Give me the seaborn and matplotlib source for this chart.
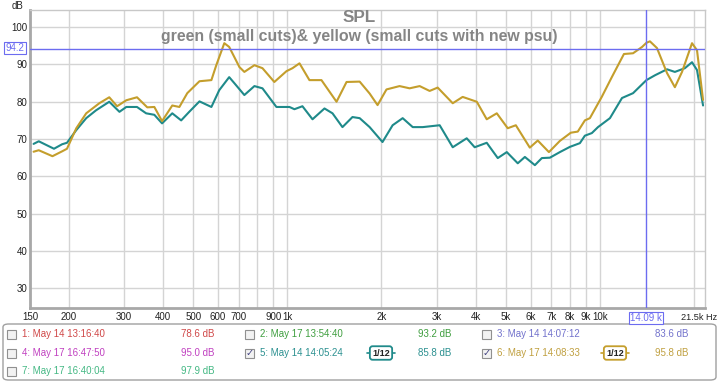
import numpy as np
import pandas as pd
import matplotlib
matplotlib.use("Agg")
import matplotlib.pyplot as plt
from matplotlib.patches import FancyBboxPatch, Rectangle
import seaborn as sns

# measurement 5 (teal) - frequency in Hz, SPL in dB
teal_freq = [154, 160, 179, 190, 197, 211, 227, 244, 269, 290, 305, 330, 353, 375,
             397, 428, 457, 485, 523, 571, 605, 651, 676, 728, 784, 832, 922, 1015,
             1053, 1117, 1203, 1314, 1394, 1500, 1615, 1703, 1833, 2015, 2171, 2338,
             2518, 2711, 3071, 3381, 3748, 3975, 4344, 4712, 5036, 5460, 5754, 6194,
             6521, 6918, 7447, 8017, 8630, 8953, 9425, 9862, 10770, 11770, 12770,
             14090, 15010, 16400, 17380, 18710, 19720, 20460, 21390]
teal_db = [68.7, 69.4, 67.4, 68.6, 69.0, 72.4, 75.6, 77.7, 80.0, 77.3, 78.6, 78.6, 76.9, 76.5,
           74.2, 76.9, 75.0, 77.3, 80.1, 78.6, 83.1, 86.6, 85.0, 81.8, 84.2, 83.6, 78.6, 78.6,
           78.0, 78.8, 75.3, 78.2, 76.9, 73.2, 75.9, 75.6, 73.2, 69.2, 73.7, 75.6,
           73.2, 73.2, 73.7, 67.8, 70.2, 67.8, 69.0, 64.9, 66.5, 63.5, 65.2, 63.0,
           64.9, 65.0, 66.5, 67.9, 68.9, 70.9, 71.6, 73.2, 75.6, 81.0, 82.3,
           85.8, 87.1, 88.7, 88.0, 89.0, 90.6, 88.5, 79.0]

# measurement 6 (gold)
gold_freq = [154, 160, 177, 190, 197, 211, 227, 250, 269, 285, 305, 330, 356, 375,
             397, 428, 451, 478, 523, 571, 592, 628, 651, 702, 728, 784, 832, 908,
             993, 1038, 1093, 1176, 1285, 1436, 1546, 1703, 1833, 1943, 2075, 2285,
             2461, 2650, 2852, 3026, 3381, 3638, 4037, 4344, 4678, 5071, 5383, 5967,
             6327, 6870, 7447, 8073, 8498, 8953, 9290, 10140, 10920, 11940, 12770,
             13650, 14090, 14460, 15230, 16400, 17380, 18320, 19720, 20460, 21390]
gold_db = [66.6, 67.0, 65.4, 66.7, 67.4, 72.9, 76.9, 79.6, 81.2, 78.8, 80.4, 81.2, 78.5, 78.6,
           74.8, 79.0, 78.6, 82.3, 85.5, 85.8, 89.8, 95.7, 94.7, 89.3, 88.0, 89.8, 89.0, 85.3,
           88.2, 89.0, 90.3, 85.8, 85.8, 80.0, 85.3, 85.4, 82.2, 79.1, 83.3, 84.2,
           83.6, 84.2, 82.9, 83.8, 79.6, 81.3, 80.0, 75.3, 76.9, 72.9, 73.7, 67.7,
           69.6, 66.5, 69.5, 71.7, 72.0, 75.0, 75.6, 81.3, 86.6, 92.8, 93.0,
           94.7, 95.8, 96.2, 94.4, 87.7, 83.9, 88.0, 95.7, 93.8, 80.5]

x_ticks = [150, 200, 300, 400, 500, 600, 700, 800, 900, 1000,
           2000, 3000, 4000, 5000, 6000, 7000, 8000, 9000, 10000, 20000]
x_labels = ["150", "200", "300", "400", "500", "600", "700", "", "900", "1k",
            "2k", "3k", "4k", "5k", "6k", "7k", "8k", "9k", "10k", ""]
y_ticks = [30, 40, 50, 60, 70, 80, 90, 100]

cursor_freq = 14090
cursor_db = 94.2

legend_rows = [
    # (label, level, colour, checked, px_x_check, px_x_level, row_y)
    ("1: May 14 13:16:40", "78.6 dB", "#d04848", False, 7, 198, 334),
    ("2: May 17 13:54:40", "93.2 dB", "#3f9e3f", False, 245, 435, 334),
    ("3: May 14 14:07:12", "83.6 dB", "#7272cc", False, 482, 672, 334),
    ("4: May 17 16:47:50", "95.0 dB", "#c040c0", False, 7, 198, 353),
    ("5: May 14 14:05:24", "85.8 dB", "#2b9090", True, 245, 435, 353),
    ("6: May 17 14:08:33", "95.8 dB", "#c0a040", True, 482, 672, 353),
    ("7: May 17 16:40:04", "97.9 dB", "#44b884", False, 7, 198, 371),
]

TEAL = "#1f8a8a"
GOLD = "#c49e2c"
CURSOR = "#6c6cf0"

W, H = 719, 382


def fx(px):
    return px / W


def fy(py):
    return 1 - py / H


df = pd.concat([
    pd.DataFrame({"freq": teal_freq, "dB": teal_db, "trace": "5"}),
    pd.DataFrame({"freq": gold_freq, "dB": gold_db, "trace": "6"}),
])

sns.set_theme(style="white")
plt.rcParams["font.family"] = ["Liberation Sans", "DejaVu Sans"]

fig = plt.figure(figsize=(W / 100, H / 100), dpi=100)
ax = fig.add_axes([fx(30), fy(308), 675 / W, 298 / H])

sns.lineplot(data=df, x="freq", y="dB", hue="trace", palette={"5": TEAL, "6": GOLD},
             estimator=None, sort=True, linewidth=1.5, legend=False, ax=ax, zorder=3)

ax.set_xscale("log")
ax.set_xlim(150, 21700)
ax.set_ylim(24.7, 104.6)
ax.set_xticks(x_ticks)
ax.set_xticklabels(x_labels)
ax.xaxis.set_minor_locator(matplotlib.ticker.NullLocator())
ax.set_yticks(y_ticks)
ax.tick_params(axis="both", length=0, labelsize=7, colors="#222222")
ax.tick_params(axis="x", pad=3)
ax.tick_params(axis="y", pad=2)
ax.set_xlabel("")
ax.set_ylabel("")
ax.grid(True, color="#d4d4d4", linewidth=1)
for side in ["top", "right"]:
    ax.spines[side].set_color("#c8c8c8")
    ax.spines[side].set_linewidth(1)
for side in ["left", "bottom"]:
    ax.spines[side].set_color("#a8a8a8")
    ax.spines[side].set_linewidth(2)

# cursor lines
ax.axhline(cursor_db, color=CURSOR, linewidth=1, zorder=4)
ax.axvline(cursor_freq, color=CURSOR, linewidth=1, zorder=4)

# titles inside the plot
fig.text(fx(359), fy(18), "SPL", ha="center", va="center",
         fontsize=12.3, fontweight="bold", color="#858585", zorder=5)
fig.text(fx(359), fy(37), "green (small cuts)& yellow (small cuts with new psu)",
         ha="center", va="center",
         fontsize=11.4, fontweight="bold", color="#858585", zorder=5)

fig.text(fx(12), fy(6), "dB", fontsize=7, color="#222222", va="center")
fig.text(fx(15), fy(48), f"{cursor_db}", fontsize=7, color=CURSOR, ha="center", va="center",
         bbox=dict(boxstyle="square,pad=0.15", fc="white", ec=CURSOR, lw=0.8))
fig.text(fx(646), fy(318), "14.09 k", fontsize=7, color=CURSOR, ha="center", va="center",
         bbox=dict(boxstyle="square,pad=0.15", fc="white", ec=CURSOR, lw=0.8))
fig.text(fx(717), fy(318), "21.5k Hz", fontsize=6.6, color="#222222", ha="right", va="center")

# legend panel
fig.patches.append(FancyBboxPatch((fx(3), fy(380)), fx(713), 56 / H,
                                  boxstyle="round,pad=0,rounding_size=0.008",
                                  transform=fig.transFigure, fc="white", ec="#a0a0a0", lw=1))
for label, level, col, checked, cx, lx, ry in legend_rows:
    fig.patches.append(Rectangle((fx(cx), fy(ry + 4.5)), 9 / W, 9 / H,
                                 transform=fig.transFigure, fc="#f2f2f2", ec="#909090", lw=0.8))
    if checked:
        fig.text(fx(cx + 4.5), fy(ry), "\u2713", fontsize=7, color="#404080",
                 ha="center", va="center", family="DejaVu Sans")
    fig.text(fx(cx + 15), fy(ry), label, fontsize=7, color=col, va="center")
    fig.text(fx(lx), fy(ry), level, fontsize=7, color=col, ha="center", va="center")

# smoothing icons for the two visible traces
for icx, col in [(381, TEAL), (615, GOLD)]:
    fig.add_artist(plt.Line2D([fx(icx - 14), fx(icx + 14)], [fy(353), fy(353)],
                              transform=fig.transFigure, color=col, lw=1.2))
    fig.text(fx(icx), fy(353), "1/12", fontsize=6.5, color="#222222", ha="center", va="center",
             fontweight="bold",
             bbox=dict(boxstyle="round,pad=0.25,rounding_size=0.3", fc="white", ec=col, lw=1.3))

fig.savefig("out.png", dpi=100)
